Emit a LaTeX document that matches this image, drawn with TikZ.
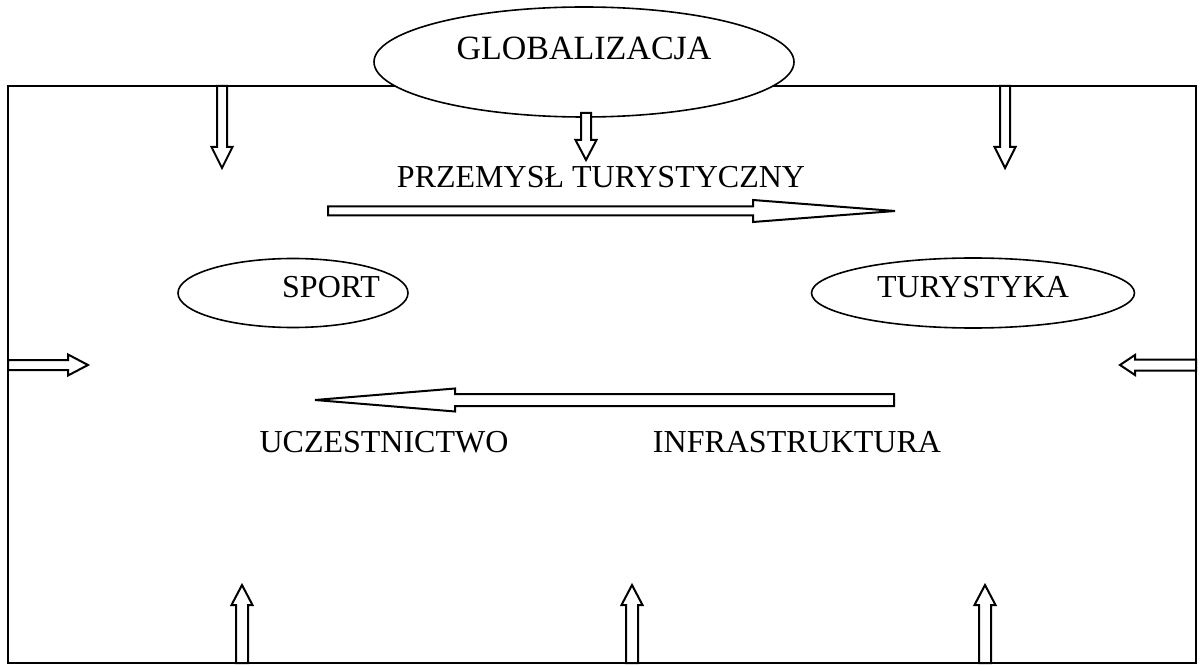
\documentclass[tikz,border=0pt]{standalone}
\usepackage{fontspec}
\setmainfont{Liberation Serif}
\usetikzlibrary{shapes.geometric}
\tikzset{
  frameline/.style={line width=2.2pt},
  barrow/.style={line width=2pt, line join=miter, fill=white},
  oval/.style={ellipse, draw, line width=1.6pt, fill=white, inner sep=0pt},
  lbl/.style={font=\fontsize{32}{38}\selectfont, inner sep=0pt, anchor=base},
}
% block arrow: start, angle, length, shaft half-width, head half-width, head length
\newcommand{\blkarr}[6]{%
  \begin{scope}[shift={(#1)}, rotate=#2]
    \draw[barrow] (0,-#4) -- ({#3-#6},-#4) -- ({#3-#6},-#5) -- (#3,0) -- ({#3-#6},#5) -- ({#3-#6},#4) -- (0,#4) -- cycle;
  \end{scope}}
\begin{document}
\begin{tikzpicture}[x=1pt,y=1pt]
\useasboundingbox (0,0) rectangle (1204,665);
% frame
\draw[frameline] (8,2) rectangle (1196,579);
% globalizacja
\node[oval, minimum width=420pt, minimum height=110pt, text height=22pt, text depth=26pt,
      font=\fontsize{34}{40}\selectfont] (glob) at (584,603) {GLOBALIZACJA};
% top arrows
\blkarr{222,579}{-90}{82}{5}{10.5}{21}
\blkarr{586,552}{-90}{47}{5}{10.5}{20}
\blkarr{1005,579}{-90}{82}{5}{10.5}{21}
% side arrows
\blkarr{8,300}{0}{80}{5}{10.5}{20}
\blkarr{1196,300}{180}{76}{5.5}{10}{15}
% bottom arrows
\blkarr{242,2}{90}{78}{6}{10.5}{20}
\blkarr{632,2}{90}{78}{6}{10.5}{20}
\blkarr{985,2}{90}{78}{6}{10.5}{20}
% long arrows
\blkarr{328,454}{0}{567}{4.5}{11}{142}
\blkarr{894,265}{180}{579}{6}{11.5}{140}
% ellipses
\node[oval, minimum width=230pt, minimum height=69pt, text height=21pt, text depth=11pt,
      font=\fontsize{32}{38}\selectfont] (sport) at (293,372) {\hspace*{76pt}\makebox[0pt]{SPORT}};
\node[oval, minimum width=323pt, minimum height=70pt, text height=21pt, text depth=11pt,
      font=\fontsize{32}{38}\selectfont] (tur) at (973,372) {TURYSTYKA};
% labels
\node[lbl] (przem) at (601,477) {PRZEMYSŁ TURYSTYCZNY};
\node[lbl] (ucz) at (384,213) {UCZESTNICTWO};
\node[lbl] (infra) at (797,213) {INFRASTRUKTURA};
\end{tikzpicture}
\end{document}
